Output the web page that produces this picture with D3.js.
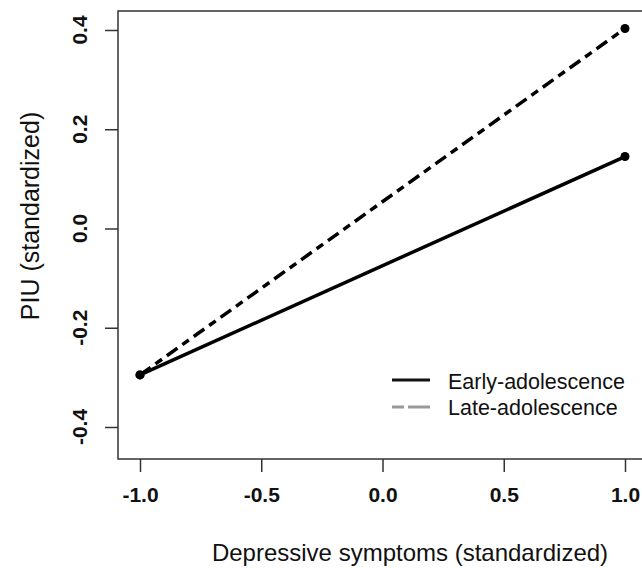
<!DOCTYPE html>
<html>
<head>
<meta charset="utf-8">
<script src="https://cdn.jsdelivr.net/npm/d3@7"></script>
<style>
  body { margin: 0; background: #fff; }
  svg { display: block; }
  text { font-family: "Liberation Sans", Arial, sans-serif; }
</style>
</head>
<body>
<div id="chart"></div>
<script>
// simple slopes, x = -1 and +1 SD of depressive symptoms
let xValues = [-1, 1];
let early = [-0.295, 0.145];
let late = [-0.295, 0.403];
let xTicks = [-1.0, -0.5, 0.0, 0.5, 1.0];
let yTicks = [-0.4, -0.2, 0.0, 0.2, 0.4];
let seriesNames = ['Early-adolescence', 'Late-adolescence'];

let width = 642, height = 568;
let svg = d3.select('#chart').append('svg').attr('width', width).attr('height', height);

let x = d3.scaleLinear().domain([-1, 1]).range([140, 625]);
let y = d3.scaleLinear().domain([-0.4, 0.4]).range([427, 30]);

let box = {left: 118, top: 11, right: 646, bottom: 459};

// R style labels use a plain hyphen
let fmt = d => d3.format('.1f')(d).replace('\u2212', '-');

// plot frame
svg.append('rect')
  .attr('x', box.left).attr('y', box.top)
  .attr('width', box.right - box.left).attr('height', box.bottom - box.top)
  .attr('fill', 'none').attr('stroke', '#333').attr('stroke-width', 1.5);

// y axis
let yAxis = svg.append('g')
  .attr('transform', `translate(${box.left},0)`)
  .call(d3.axisLeft(y).tickValues(yTicks).tickSize(13).tickFormat(''));
yAxis.select('.domain').remove();
yAxis.selectAll('line').attr('stroke', '#333').attr('stroke-width', 1.5);
yAxis.selectAll('.ylab').data(yTicks).join('text')
  .attr('class', 'ylab')
  .attr('transform', d => `translate(-38,${y(d)}) rotate(-90)`)
  .attr('text-anchor', 'middle')
  .attr('dy', '0.35em')
  .attr('font-size', 21).attr('font-weight', 'bold').attr('fill', '#111')
  .text(fmt);

// x axis
let xAxis = svg.append('g')
  .attr('transform', `translate(0,${box.bottom})`)
  .call(d3.axisBottom(x).tickValues(xTicks).tickSize(13).tickFormat(fmt));
xAxis.select('.domain').remove();
xAxis.selectAll('line').attr('stroke', '#333').attr('stroke-width', 1.5);
xAxis.selectAll('text')
  .attr('y', 28)
  .attr('font-size', 21).attr('font-weight', 'bold').attr('fill', '#111');

// axis titles
svg.append('text')
  .attr('x', 410).attr('y', 561)
  .attr('text-anchor', 'middle')
  .attr('font-size', 24).attr('fill', '#111')
  .text('Depressive symptoms (standardized)');
svg.append('text')
  .attr('transform', `translate(39,216) rotate(-90)`)
  .attr('text-anchor', 'middle')
  .attr('font-size', 25).attr('fill', '#111')
  .text('PIU (standardized)');

let line = d3.line().x(d => x(d[0])).y(d => y(d[1]));

let lines = [
  {values: late, dash: '13,6,8,6'},
  {values: early, dash: null}
];

lines.forEach(s => {
  let pts = xValues.map((v, i) => [v, s.values[i]]);
  svg.append('path')
    .attr('d', line(pts))
    .attr('fill', 'none')
    .attr('stroke', '#000')
    .attr('stroke-width', 3.5)
    .attr('stroke-dasharray', s.dash);
  svg.selectAll(null).data(pts).join('circle')
    .attr('cx', d => x(d[0])).attr('cy', d => y(d[1]))
    .attr('r', 4.5).attr('fill', '#000');
});

// legend
let legend = svg.append('g');
legend.append('line')
  .attr('x1', 392).attr('x2', 430).attr('y1', 380).attr('y2', 380)
  .attr('stroke', '#111').attr('stroke-width', 3);
legend.append('line')
  .attr('x1', 392).attr('x2', 430).attr('y1', 407).attr('y2', 407)
  .attr('stroke', '#999').attr('stroke-width', 3)
  .attr('stroke-dasharray', '12,4,22');
legend.selectAll('.lt').data(seriesNames).join('text')
  .attr('class', 'lt')
  .attr('x', 448).attr('y', (d, i) => 381 + i * 26)
  .attr('dy', '0.35em')
  .attr('font-size', 21.5).attr('fill', '#111')
  .text(d => d);
</script>
</body>
</html>
